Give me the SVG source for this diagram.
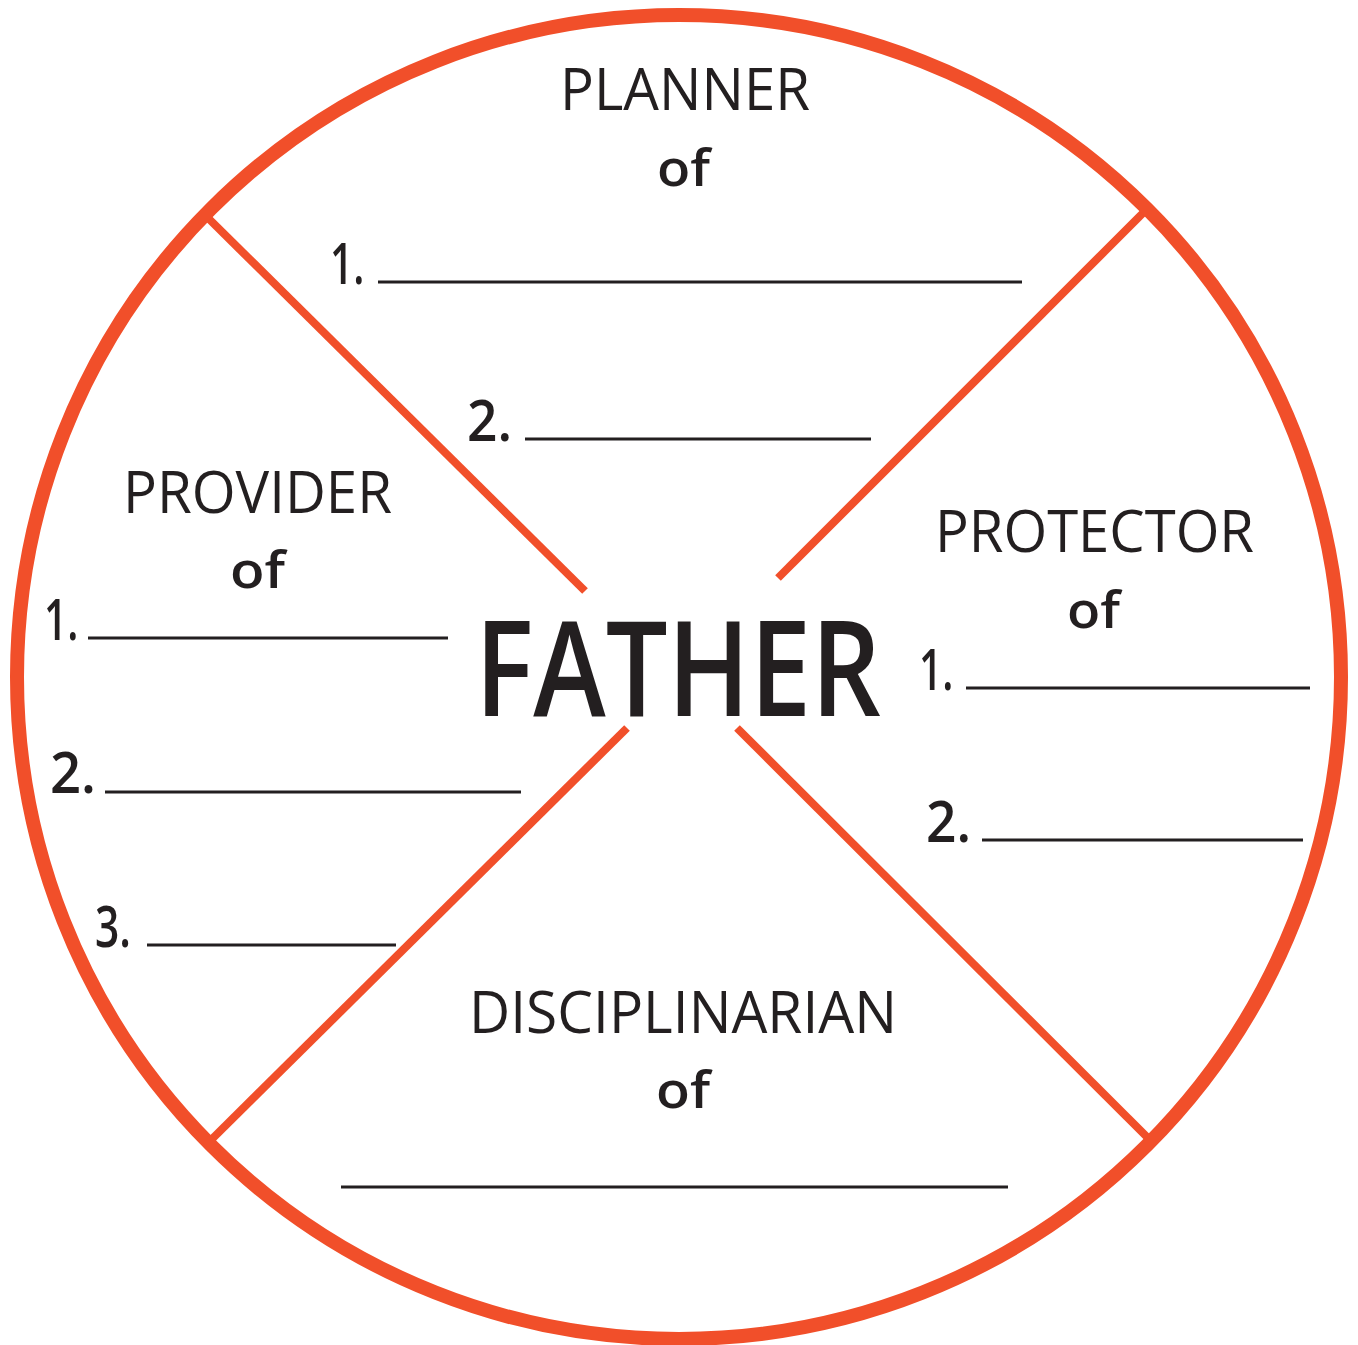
<svg xmlns="http://www.w3.org/2000/svg" width="1358" height="1345" viewBox="0 0 1358 1345">
<style>
.ring{fill:none;stroke:#F14F2A;stroke-width:14}
.div{stroke:#F14F2A;stroke-width:8;stroke-linecap:butt}
.blank{stroke:#231F20;stroke-width:3}
.lbl{font-family:"Open Sans","Noto Sans",sans-serif;font-size:59px;fill:#231F20}
.hand{font-family:"Open Sans","Noto Sans",sans-serif;font-size:58px;fill:#231F20;font-weight:600}
.of{font-family:"Open Sans","Noto Sans",sans-serif;font-size:50px;fill:#231F20;font-weight:600}
.big{font-family:"Open Sans","Noto Sans",sans-serif;font-size:132px;fill:#231F20;font-weight:600}
</style>
<rect width="1358" height="1345" fill="#ffffff"/>
<g id="connectors">
<line class="div" x1="205" y1="215" x2="585" y2="591"/>
<line class="div" x1="1148" y1="208" x2="778" y2="578"/>
<line class="div" x1="627" y1="728" x2="208" y2="1143"/>
<line class="div" x1="737" y1="728" x2="1152" y2="1142"/>
</g>
<g id="ring"><circle class="ring" cx="679" cy="677" r="662"/></g>
<g id="father"><text class="big" text-anchor="middle" transform="translate(678,716) scale(0.83,1)">FATHER</text></g>
<g id="planner">
<text class="lbl" x="560" y="110" textLength="250" lengthAdjust="spacingAndGlyphs">PLANNER</text>
<text class="of" x="657" y="186" textLength="53" lengthAdjust="spacingAndGlyphs">of</text>
<text class="hand" transform="translate(330,284) scale(0.7,1)">1.</text>
<line class="blank" x1="378" y1="282" x2="1022" y2="282"/>
<text class="hand" x="467" y="441" textLength="45" lengthAdjust="spacingAndGlyphs">2.</text>
<line class="blank" x1="525" y1="439" x2="871" y2="439"/>
</g>
<g id="provider">
<text class="lbl" x="123" y="513" textLength="269" lengthAdjust="spacingAndGlyphs">PROVIDER</text>
<text class="of" x="230" y="588" textLength="55" lengthAdjust="spacingAndGlyphs">of</text>
<text class="hand" transform="translate(44,640) scale(0.7,1)">1.</text>
<line class="blank" x1="88" y1="638" x2="448" y2="638"/>
<text class="hand" x="50" y="793" textLength="46" lengthAdjust="spacingAndGlyphs">2.</text>
<line class="blank" x1="105" y1="792" x2="521" y2="792"/>
<text class="hand" x="95" y="947" textLength="36" lengthAdjust="spacingAndGlyphs">3.</text>
<line class="blank" x1="147" y1="945" x2="396" y2="945"/>
</g>
<g id="protector">
<text class="lbl" x="935" y="552" textLength="319" lengthAdjust="spacingAndGlyphs">PROTECTOR</text>
<text class="of" x="1067" y="628" textLength="53" lengthAdjust="spacingAndGlyphs">of</text>
<text class="hand" transform="translate(919,690) scale(0.7,1)">1.</text>
<line class="blank" x1="966" y1="688" x2="1310" y2="688"/>
<text class="hand" x="926" y="842" textLength="45" lengthAdjust="spacingAndGlyphs">2.</text>
<line class="blank" x1="982" y1="840" x2="1303" y2="840"/>
</g>
<g id="disciplinarian">
<text class="lbl" x="469" y="1033" textLength="428" lengthAdjust="spacingAndGlyphs">DISCIPLINARIAN</text>
<text class="of" x="656" y="1108" textLength="54" lengthAdjust="spacingAndGlyphs">of</text>
<line class="blank" x1="341" y1="1187" x2="1008" y2="1187"/>
</g>
</svg>
